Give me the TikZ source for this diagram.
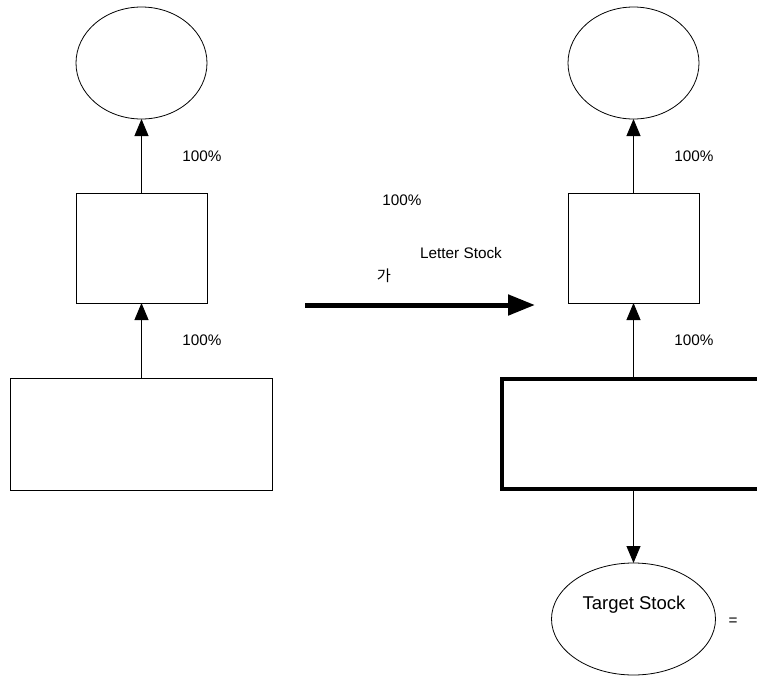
\documentclass[tikz,border=0pt]{standalone}
\usepackage{fontspec}
\setmainfont{Liberation Sans}
\newfontfamily\krfont{Noto Sans CJK KR}
\usetikzlibrary{shapes.geometric,arrows.meta}
\begin{document}
\begin{tikzpicture}[x=1pt,y=-1pt,
  every node/.style={inner sep=0pt, outer sep=0pt},
  thin line/.style={line width=0.8pt},
  oval/.style={draw, thin line, ellipse, minimum width=131pt, minimum height=112pt},
  smallbox/.style={draw, thin line, rectangle, minimum width=131pt, minimum height=110pt},
  widebox/.style={draw, thin line, rectangle, minimum width=262pt, minimum height=112pt},
  boldbox/.style={draw, line width=4pt, rectangle, minimum width=264pt, minimum height=110pt},
  arr/.style={draw, line width=0.9pt, -{Triangle[length=17pt,width=14pt]}},
  bigarr/.style={draw, line width=5pt, -{Triangle[length=27pt,width=20pt]}},
  lbl/.style={font=\fontsize{15.3}{18}\selectfont}
]
\useasboundingbox (0,0) rectangle (757,675);

% left column
\node[oval] (lo) at (141.5,63) {};
\node[smallbox] (lb) at (141.5,248) {};
\node[widebox] (lw) at (141,434) {};
\draw[arr] (lb.north) -- (lo.south);
\draw[arr] (lb.south |- lw.north) -- (lb.south);
\node[lbl] (lp1) at (202,156) {100\%};
\node[lbl] (lp2) at (202,340) {100\%};

% middle transition
\node[lbl] (mp) at (402,200) {100\%};
\node[lbl] (ml) at (461,253) {Letter Stock};
\node[lbl] (mk) at (384,276) {\krfont 가};
\coordinate (ms) at (305,305);
\coordinate (me) at (535,305);
\draw[bigarr] (ms) -- (me);

% right column
\node[oval] (ro) at (633.5,63) {};
\node[smallbox] (rb) at (633.5,248) {};
\node[boldbox] (rw) at (634,434) {};
\node[draw, thin line, ellipse, minimum width=164pt, minimum height=112pt] (rt) at (633.5,619) {};
\draw[arr] (rb.north) -- (ro.south);
\draw[arr] (rb.south |- rw.north) -- (rb.south);
\draw[arr] (rb.south |- rw.south) -- (rt.north);
\node[lbl] (rp1) at (694,156) {100\%};
\node[lbl] (rp2) at (694,340) {100\%};
\node[font=\fontsize{18.5}{22}\selectfont] (rtl) at (634,605) {Target Stock};
\node[lbl] (req) at (733,622) {=};
\end{tikzpicture}
\end{document}
